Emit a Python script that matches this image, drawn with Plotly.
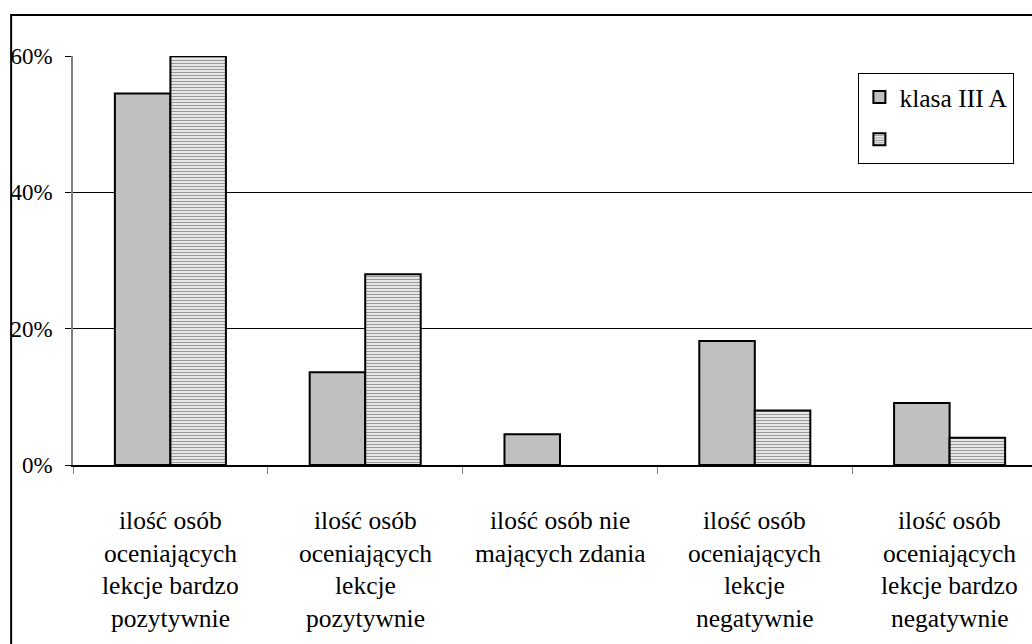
import plotly.graph_objects as go

categories = [
    "ilość osób oceniających lekcje bardzo pozytywnie",
    "ilość osób oceniających lekcje pozytywnie",
    "ilość osób nie mających zdania",
    "ilość osób oceniających lekcje negatywnie",
    "ilość osób oceniających lekcje bardzo negatywnie",
]
label_lines = [
    ["ilość osób", "oceniających", "lekcje bardzo", "pozytywnie"],
    ["ilość osób", "oceniających", "lekcje", "pozytywnie"],
    ["ilość osób nie", "mających zdania"],
    ["ilość osób", "oceniających", "lekcje", "negatywnie"],
    ["ilość osób", "oceniających", "lekcje bardzo", "negatywnie"],
]
series_names = ["klasa III A", ""]
values_a = [54.5, 13.6, 4.5, 18.2, 9.1]
values_b = [60.0, 28.0, 0.0, 8.0, 4.0]
y_ticks = [0, 20, 40, 60]
y_tick_labels = ["0%", "20%", "40%", "60%"]

FONT = "Liberation Serif, Times New Roman, serif"
# the original chart is cropped on the right: plot area extends past the window
L, T, B = 71, 56, 179
pw = 976
R = 10
W = L + pw + R
H = 644
ph = H - T - B


def outline_widths(vals):
    return [0 if v == 0 else 2 for v in vals]


fig = go.Figure()
fig.add_trace(go.Bar(
    x=categories, y=values_a, name=series_names[0],
    marker=dict(color="#C0C0C0",
                line=dict(color="black", width=outline_widths(values_a))),
    legendgroup="a",
))
fig.add_trace(go.Bar(
    x=categories, y=values_b, name=series_names[1],
    marker=dict(color="white",
                line=dict(color="black", width=outline_widths(values_b)),
                pattern=dict(shape="-", size=3, solidity=0.5,
                             fgcolor="#333333", bgcolor="white")),
    legendgroup="b",
))

annotations = []
line_centers = [520, 553, 585, 618]
for cat, lines in zip(categories, label_lines):
    for j, t in enumerate(lines):
        annotations.append(dict(
            x=cat, xref="x", y=0, yref="paper",
            yshift=-(line_centers[j] - (T + ph)), yanchor="middle",
            text=t, showarrow=False,
            font=dict(family=FONT, size=25.5, color="black"),
        ))

fig.update_layout(
    width=W, height=H,
    margin=dict(l=L, r=R, t=T, b=B),
    paper_bgcolor="white", plot_bgcolor="white",
    barmode="group", bargap=0.43, bargroupgap=0,
    font=dict(family=FONT, size=23, color="black"),
    showlegend=True,
    legend=dict(
        x=(858 - L) / pw, y=(T + ph - 73) / ph,
        xanchor="left", yanchor="top",
        bordercolor="black", borderwidth=1, bgcolor="white",
        font=dict(family=FONT, size=25.5, color="black"),
        traceorder="grouped", tracegroupgap=6,
        itemwidth=30,
    ),
    xaxis=dict(
        showticklabels=False, ticks="outside", tickson="boundaries",
        ticklen=7, tickcolor="#808080", showline=True, linecolor="black",
        linewidth=1.5, showgrid=False, zeroline=False,
    ),
    yaxis=dict(
        range=[0, 60], tickvals=y_ticks, ticktext=y_tick_labels,
        ticks="outside", ticklen=6, tickcolor="black",
        ticklabelstandoff=8,
        showline=True, linecolor="#808080", linewidth=1.5,
        showgrid=True, gridcolor="black", gridwidth=1, zeroline=False,
        tickfont=dict(family=FONT, size=23, color="black"),
    ),
    annotations=annotations,
    shapes=[dict(
        type="rect", xref="paper", yref="paper",
        x0=(9 - L) / pw, x1=(W + 20 - L) / pw,
        y0=(T + ph - (H + 20)) / ph, y1=(T + ph - 15) / ph,
        line=dict(color="black", width=2), fillcolor="rgba(0,0,0,0)",
        layer="below",
    )],
)

fig.write_html(
    "out.html",
    config={"displayModeBar": False},
    post_script="document.body.style.margin='0';document.body.style.overflow='hidden';",
)
